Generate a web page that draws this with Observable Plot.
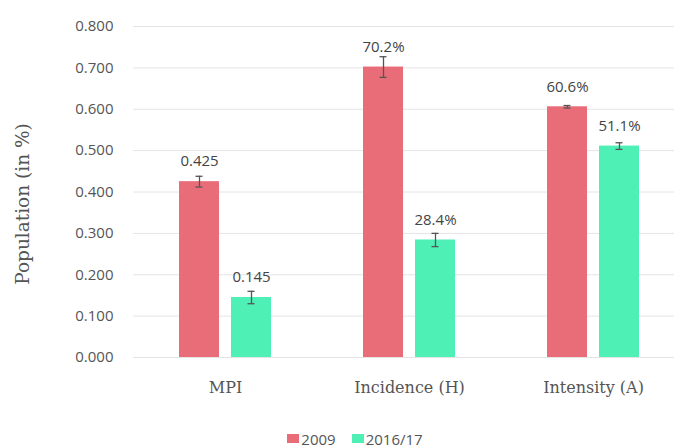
<!DOCTYPE html>
<html>
<head>
<meta charset="utf-8">
<script src="https://cdn.jsdelivr.net/npm/d3@7"></script>
<script src="https://cdn.jsdelivr.net/npm/@observablehq/plot@0.6"></script>
<style>
  html, body { margin: 0; padding: 0; background: #fff; overflow: hidden; }
  #chart { width: 674px; }
  .legend { display: flex; justify-content: center; align-items: center; gap: 16px; height: 27px;
            font-family: "Open Sans", sans-serif; font-size: 15px; color: #555; padding-left: 36px; margin-top: 5px; }
  .legend span.sw { display: inline-block; width: 12px; height: 9px; margin-right: 2px; vertical-align: middle; }
  .legend .item { display: flex; align-items: center; }
</style>
</head>
<body>
<div id="chart"></div>
<script>
const groups = ["MPI", "Incidence (H)", "Intensity (A)"];
const series = ["2009", "2016/17"];
const values2009 = [0.425, 0.702, 0.606];
const values2016 = [0.145, 0.284, 0.511];
const err2009 = [0.013, 0.025, 0.003];
const err2016 = [0.015, 0.016, 0.008];
const labels2009 = ["0.425", "70.2%", "60.6%"];
const labels2016 = ["0.145", "28.4%", "51.1%"];
const yTicks = [0, 0.1, 0.2, 0.3, 0.4, 0.5, 0.6, 0.7, 0.8];
const colors = ["#e96d79", "#4ef0b6"];

const data = [];
groups.forEach((g, i) => {
  data.push({group: g, series: series[0], value: values2009[i], err: err2009[i], label: labels2009[i]});
  data.push({group: g, series: series[1], value: values2016[i], err: err2016[i], label: labels2016[i]});
});

const plot = Plot.plot({
  width: 674,
  height: 420,
  marginLeft: 131,
  marginRight: 0,
  marginTop: 26,
  marginBottom: 63,
  fx: {domain: groups, range: [131.75, 685.25], padding: 0, label: null},
  x: {domain: series, paddingInner: 0.226, paddingOuter: 0.858, axis: null},
  y: {domain: [0, 0.8], label: null},
  color: {domain: series, range: colors},
  marks: [
    Plot.ruleY(yTicks, {y: d => d, stroke: "#e4e4e4", strokeWidth: 1}),
    Plot.barY(data, {fx: "group", x: "series", y: "value", fill: "series"}),
    Plot.ruleX(data, {fx: "group", x: "series", y1: d => d.value - d.err, y2: d => d.value + d.err, stroke: "#555", strokeWidth: 1.3}),
    Plot.tickY(data, {fx: "group", x: "series", y: d => d.value + d.err, stroke: "#555", strokeWidth: 1.3, insetLeft: 16.5, insetRight: 16.5}),
    Plot.tickY(data, {fx: "group", x: "series", y: d => d.value - d.err, stroke: "#555", strokeWidth: 1.3, insetLeft: 16.5, insetRight: 16.5}),
    Plot.text(data, {fx: "group", x: "series", y: "value", text: "label", dy: -20, lineAnchor: "middle",
      fontFamily: "Open Sans", fontSize: 15, fill: "#444"}),
    Plot.axisY({ticks: yTicks, tickFormat: d3.format(".3f"), tickSize: 0, tickPadding: 20,
      fontFamily: "Open Sans", fontSize: 15, fill: "#555", label: null}),
    Plot.axisY({ticks: [], tickSize: 0, fontFamily: "DejaVu Serif", fontSize: 18.5, fill: "#555",
      label: "Population (in %)", labelAnchor: "center", labelOffset: 118, labelArrow: "none"}),
    Plot.axisFx({anchor: "bottom", tickSize: 0, tickPadding: 24, fontFamily: "DejaVu Serif", fontSize: 16, fill: "#555", label: null})
  ]
});
document.getElementById("chart").appendChild(plot);
// nudge the y-axis title down slightly to match the reference's vertical centring
plot.querySelectorAll('g[aria-label="y-axis label"]').forEach(g => {
  const t = g.getAttribute("transform") || "";
  g.setAttribute("transform", t + " translate(0,12)");
});

const legend = document.createElement("div");
legend.className = "legend";
series.forEach((s, i) => {
  const item = document.createElement("div");
  item.className = "item";
  const sw = document.createElement("span");
  sw.className = "sw";
  sw.style.background = colors[i];
  item.appendChild(sw);
  item.appendChild(document.createTextNode(s));
  legend.appendChild(item);
});
document.body.appendChild(legend);
</script>
</body>
</html>
